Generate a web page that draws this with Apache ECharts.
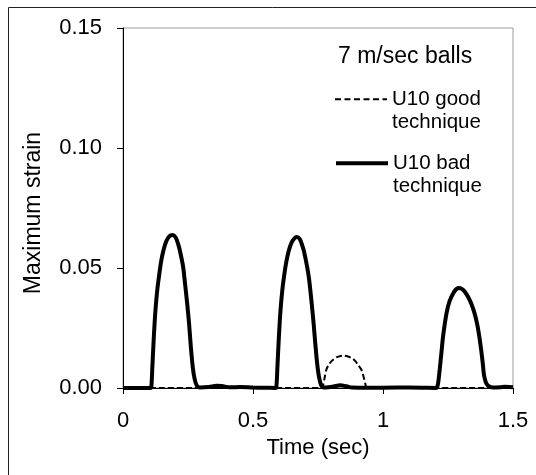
<!DOCTYPE html>
<html>
<head>
<meta charset="utf-8">
<script src="https://cdn.jsdelivr.net/npm/echarts@6/dist/echarts.min.js"></script>
<style>
html,body{margin:0;padding:0;background:#fff;}
#chart{width:536px;height:475px;}
</style>
</head>
<body>
<div id="chart"></div>
<script>
// ---- data ----
var chartTitle = '7 m/sec balls';
var xAxisName = 'Time (sec)';
var yAxisName = 'Maximum strain';
var xTicks = [0, 0.5, 1, 1.5];
var yTicks = [0.00, 0.05, 0.10, 0.15];
var goodName = 'U10 good technique';
var badName = 'U10 bad technique';

var goodTime = [0, 0.766, 0.769, 0.775, 0.782, 0.795, 0.808, 0.825, 0.846, 0.866, 0.880, 0.891, 0.905, 0.917, 0.927, 0.933, 0.937, 1.5];
var goodStrain = [0, 0, 0.0008, 0.004, 0.0076, 0.0103, 0.0118, 0.0130, 0.0135, 0.0131, 0.0124, 0.0115, 0.0095, 0.0076, 0.0040, 0.0012, 0, 0];

var badTime = [
  0, 0.05, 0.105, 0.109, 0.113, 0.117, 0.121, 0.126, 0.132, 0.139, 0.147, 0.156, 0.166, 0.178, 0.190, 0.202, 0.212, 0.218, 0.231, 0.237, 0.247, 0.254, 0.261, 0.268, 0.275, 0.283, 0.295,
  0.33, 0.36, 0.38, 0.41, 0.45, 0.50, 0.55, 0.586,
  0.590, 0.594, 0.598, 0.602, 0.607, 0.613, 0.620, 0.628, 0.637, 0.648, 0.658, 0.668, 0.680, 0.690, 0.697, 0.709, 0.716, 0.726, 0.733, 0.740, 0.747, 0.754, 0.762, 0.772,
  0.79, 0.81, 0.835, 0.86, 0.88, 0.95, 1.05, 1.15, 1.204,
  1.208, 1.212, 1.218, 1.225, 1.231, 1.244, 1.256, 1.273, 1.283, 1.292, 1.303, 1.314, 1.328, 1.340, 1.352, 1.363, 1.371, 1.378, 1.384, 1.388, 1.395, 1.404, 1.423,
  1.45, 1.47, 1.5
];
var badStrain = [
  0, 0, 0, 0.0005, 0.009, 0.018, 0.026, 0.034, 0.041, 0.047, 0.053, 0.0575, 0.061, 0.0632, 0.0637, 0.0628, 0.0600, 0.0576, 0.0507, 0.0451, 0.035, 0.027, 0.017, 0.009, 0.004, 0.0012, 0.0002,
  0.0004, 0.0009, 0.0008, 0.0003, 0.0004, 0.0002, 0.0001, 0,
  0.0005, 0.009, 0.018, 0.026, 0.034, 0.041, 0.047, 0.0525, 0.057, 0.0605, 0.0622, 0.0629, 0.0620, 0.0592, 0.0565, 0.0500, 0.0451, 0.035, 0.027, 0.018, 0.010, 0.0045, 0.0012, 0.0002,
  0.0003, 0.0006, 0.0011, 0.0007, 0.0002, 0.0001, 0.0002, 0.0001, 0,
  0.0004, 0.002, 0.0076, 0.015, 0.0215, 0.031, 0.0362, 0.0400, 0.0413, 0.0417, 0.0413, 0.0402, 0.0378, 0.0350, 0.0312, 0.0262, 0.021, 0.0155, 0.010, 0.0058, 0.0025, 0.0010, 0.0002,
  0.0003, 0.0005, 0.0003
];

function pairs(xs, ys) { return xs.map(function (x, i) { return [x, ys[i]]; }); }

var FONT = '"Liberation Sans", Arial, sans-serif';
var chart = echarts.init(document.getElementById('chart'), null, {renderer: 'canvas'});

function legendFor(name, top, lineStyle) {
  return {
    data: [{name: name}],
    left: 334,
    top: top,
    padding: 0,
    orient: 'vertical',
    itemWidth: 52,
    itemHeight: 10,
    itemGap: 5,
    selectedMode: false,
    itemStyle: {opacity: 0},
    lineStyle: lineStyle,
    textStyle: {fontFamily: FONT, fontSize: 20.5, color: '#000', lineHeight: 23},
    formatter: function (n) { var w = n.split(' '); return '\n' + w[0] + ' ' + w[1] + '\n' + w.slice(2).join(' '); }
  };
}

var option = {
  animation: false,
  backgroundColor: '#fff',
  color: ['#000', '#000'],
  textStyle: {fontFamily: FONT},
  title: {
    text: chartTitle,
    left: 338,
    top: 45,
    padding: 0,
    textStyle: {fontFamily: FONT, fontSize: 23, fontWeight: 'normal', color: '#000'}
  },
  legend: [
    legendFor(goodName, 64.8, {width: 2, type: [6, 3.5], color: '#000'}),
    legendFor(badName, 128.8, {width: 4, type: 'solid', color: '#000'})
  ],
  grid: {
    left: 123, right: 23, top: 28, bottom: 87,
    show: true, borderColor: '#9a9a9a', borderWidth: 1, backgroundColor: 'transparent'
  },
  xAxis: {
    type: 'value',
    min: 0, max: 1.5, interval: 0.5,
    name: xAxisName,
    nameLocation: 'middle',
    nameGap: 49,
    nameTextStyle: {fontFamily: FONT, fontSize: 22, color: '#000'},
    axisLine: {show: true, onZero: false, lineStyle: {color: '#000', width: 1}},
    axisTick: {show: true, length: 6, inside: false, lineStyle: {color: '#000'}},
    axisLabel: {fontFamily: FONT, fontSize: 22, color: '#000', margin: 22,
      formatter: function (v) { return xTicks.indexOf(+v.toFixed(2)) >= 0 ? String(+v.toFixed(2)) : ''; }},
    splitLine: {show: false}
  },
  yAxis: {
    type: 'value',
    min: 0, max: 0.15, interval: 0.05,
    name: yAxisName,
    nameLocation: 'middle',
    nameGap: 78,
    nameRotate: 90,
    nameTextStyle: {fontFamily: FONT, fontSize: 23, color: '#000', padding: [0, 10, 0, 0]},
    axisLine: {show: true, lineStyle: {color: '#000', width: 1}},
    axisTick: {show: true, length: 6, inside: false, lineStyle: {color: '#000'}},
    axisLabel: {fontFamily: FONT, fontSize: 22, color: '#000', margin: 21,
      formatter: function (v) { return v.toFixed(2); }},
    splitLine: {show: false}
  },
  graphic: [{
    type: 'rect', silent: true, z: 100,
    shape: {x: 8.5, y: 7.5, width: 700, height: 700},
    style: {fill: 'none', stroke: '#222', lineWidth: 1}
  }],
  series: [
    {
      name: goodName, type: 'line', data: pairs(goodTime, goodStrain),
      showSymbol: false, symbol: 'none', smooth: 0.3, z: 2,
      itemStyle: {color: '#000'},
      lineStyle: {color: '#000', width: 2, type: [6, 3]}
    },
    {
      name: badName, type: 'line', data: pairs(badTime, badStrain),
      showSymbol: false, symbol: 'none', smooth: 0.3, z: 3,
      itemStyle: {color: '#000'},
      lineStyle: {color: '#000', width: 4, type: 'solid'}
    }
  ]
};
chart.setOption(option);
</script>
</body>
</html>
